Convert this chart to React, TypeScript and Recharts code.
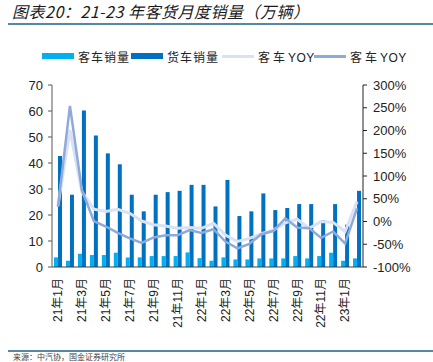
import React from 'react';
import { ComposedChart, Bar, Line, XAxis, YAxis } from 'recharts';

const months = [
  '21年1月', '21年2月', '21年3月', '21年4月', '21年5月', '21年6月', '21年7月', '21年8月', '21年9月', '21年10月', '21年11月', '21年12月',
  '22年1月', '22年2月', '22年3月', '22年4月', '22年5月', '22年6月', '22年7月', '22年8月', '22年9月', '22年10月', '22年11月', '22年12月',
  '23年1月', '23年2月',
];
const busSales = [3.7, 2.4, 5.1, 4.6, 4.6, 5.5, 3.7, 3.7, 4.2, 4.2, 4.2, 5.6, 3.4, 2.4, 3.7, 2.9, 2.9, 3.3, 3.3, 3.3, 4.2, 3.3, 4.2, 5.5, 2.4, 3.3];
const truckSales = [42.7, 27.8, 60.2, 50.6, 43.7, 39.5, 27.8, 21.4, 27.8, 28.8, 29.3, 31.6, 31.6, 23.3, 33.5, 19.6, 21.4, 28.3, 21.9, 22.7, 24.2, 24.2, 18.0, 24.2, 16.3, 29.3];
const busYoy = [35, 201, 65, 27, 22, 27, 18, 1, -7, -10, -15, -13, -15, -4, -30, -44, -37, -27, -19, -3, 5, -15, 0, -2, -22, 44];
const truckYoy = [32, 254, 69, 1, -11, -25, -37, -47, -35, -30, -30, -19, -25, -17, -44, -59, -49, -28, -21, 7, -13, -15, -36, -22, -48, 29];
const leftTicks = [0, 10, 20, 30, 40, 50, 60, 70];
const rightTicks = [-100, -50, 0, 50, 100, 150, 200, 250, 300];

const data = months.map((m, i) => ({
  m,
  bus: busSales[i],
  truck: truckSales[i],
  busYoy: busYoy[i],
  truckYoy: truckYoy[i],
}));

const C_BUS = '#00B0F0';
const C_TRUCK = '#0070C0';
const C_BUSYOY = '#D9E1F4';
const C_TRUCKYOY = '#8EA9DB';
const FONT = '"Liberation Sans", Arial, "Noto Sans CJK SC", sans-serif';

const XTick = (props: any) => {
  const { x, y, payload } = props;
  return (
    <text
      transform={`translate(${x},${y + 3}) rotate(-90)`}
      textAnchor="end"
      dy="0.36em"
      fontSize={12}
      fill="#222"
      fontFamily={FONT}
    >
      {payload.value}
    </text>
  );
};

export default function App() {
  const legendItems = [
    { label: '客车销量', color: C_BUS, type: 'bar', x: 42 },
    { label: '货车销量', color: C_TRUCK, type: 'bar', x: 131 },
    { label: '客车YOY', color: C_BUSYOY, type: 'line', x: 222 },
    { label: '客车YOY', color: C_TRUCKYOY, type: 'line', x: 314 },
  ];
  return (
    <div style={{ position: 'absolute', left: 0, top: 0, width: 433, height: 362, background: '#fff', overflow: 'hidden' }}>
      <div
        style={{
          position: 'absolute', left: 12, top: 1, fontSize: 16, fontStyle: 'italic', color: '#1a1a1a',
          fontFamily: '"Noto Sans CJK SC", sans-serif', whiteSpace: 'nowrap', lineHeight: '20px', letterSpacing: 0.5,
        }}
      >
        图表20：21-23 年客货月度销量（万辆）
      </div>
      <div style={{ position: 'absolute', left: 8, top: 23, width: 425, height: 2, background: '#5587A6' }} />
      {legendItems.map((it, i) => (
        <div key={i} style={{ position: 'absolute', left: it.x, top: 47, height: 18, display: 'flex', alignItems: 'center', whiteSpace: 'nowrap' }}>
          <div
            style={{
              width: 32,
              height: it.type === 'bar' ? 6 : 3,
              background: it.color,
              marginRight: 4,
            }}
          />
          <span style={{ fontSize: 12, color: '#222', fontFamily: FONT, letterSpacing: it.type === 'bar' ? 1 : 0.5 }}>
            {it.type === 'bar' ? it.label : (<><span style={{ letterSpacing: 3 }}>客车</span>YOY</>)}
          </span>
        </div>
      ))}
      <ComposedChart
        width={433}
        height={362}
        data={data}
        margin={{ top: 85, right: 0, bottom: 0, left: 12 }}
        barGap={0}
        barCategoryGap={0}
        style={{ position: 'absolute', left: 0, top: 0 }}
      >
        <XAxis
          dataKey="m"
          interval={1}
          height={95}
          tickLine={false}
          axisLine={{ stroke: '#404040', strokeWidth: 1 }}
          tick={<XTick />}
        />
        <YAxis
          yAxisId="left"
          width={40}
          domain={[0, 70]}
          ticks={leftTicks}
          interval={0}
          tickSize={4}
          tickMargin={5}
          axisLine={{ stroke: '#595959', strokeWidth: 1 }}
          tickLine={{ stroke: '#595959' }}
          tick={{ fontSize: 13, fill: '#222', fontFamily: FONT }}
        />
        <YAxis
          yAxisId="right"
          orientation="right"
          width={70}
          domain={[-100, 300]}
          ticks={rightTicks}
          interval={0}
          tickSize={4}
          tickMargin={6}
          tickFormatter={(v: number) => `${v}%`}
          axisLine={{ stroke: '#222', strokeWidth: 1 }}
          tickLine={{ stroke: '#222' }}
          tick={{ fontSize: 13, fill: '#222', fontFamily: FONT }}
        />
        <Bar yAxisId="left" dataKey="bus" fill={C_BUS} barSize={4} isAnimationActive={false} />
        <Bar yAxisId="left" dataKey="truck" fill={C_TRUCK} barSize={4} isAnimationActive={false} />
        <Line yAxisId="right" dataKey="busYoy" stroke={C_BUSYOY} strokeWidth={3} dot={false} type="linear" isAnimationActive={false} />
        <Line yAxisId="right" dataKey="truckYoy" stroke={C_TRUCKYOY} strokeWidth={2.5} dot={false} type="linear" isAnimationActive={false} />
      </ComposedChart>
      <div style={{ position: 'absolute', left: 8, top: 350, width: 425, height: 2, background: '#5587A6' }} />
      <div style={{ position: 'absolute', left: 13, top: 353, fontSize: 8, color: '#444', fontFamily: '"Noto Sans CJK SC", sans-serif', whiteSpace: 'nowrap', lineHeight: '8px' }}>
        来源：中汽协，国金证券研究所
      </div>
    </div>
  );
}
